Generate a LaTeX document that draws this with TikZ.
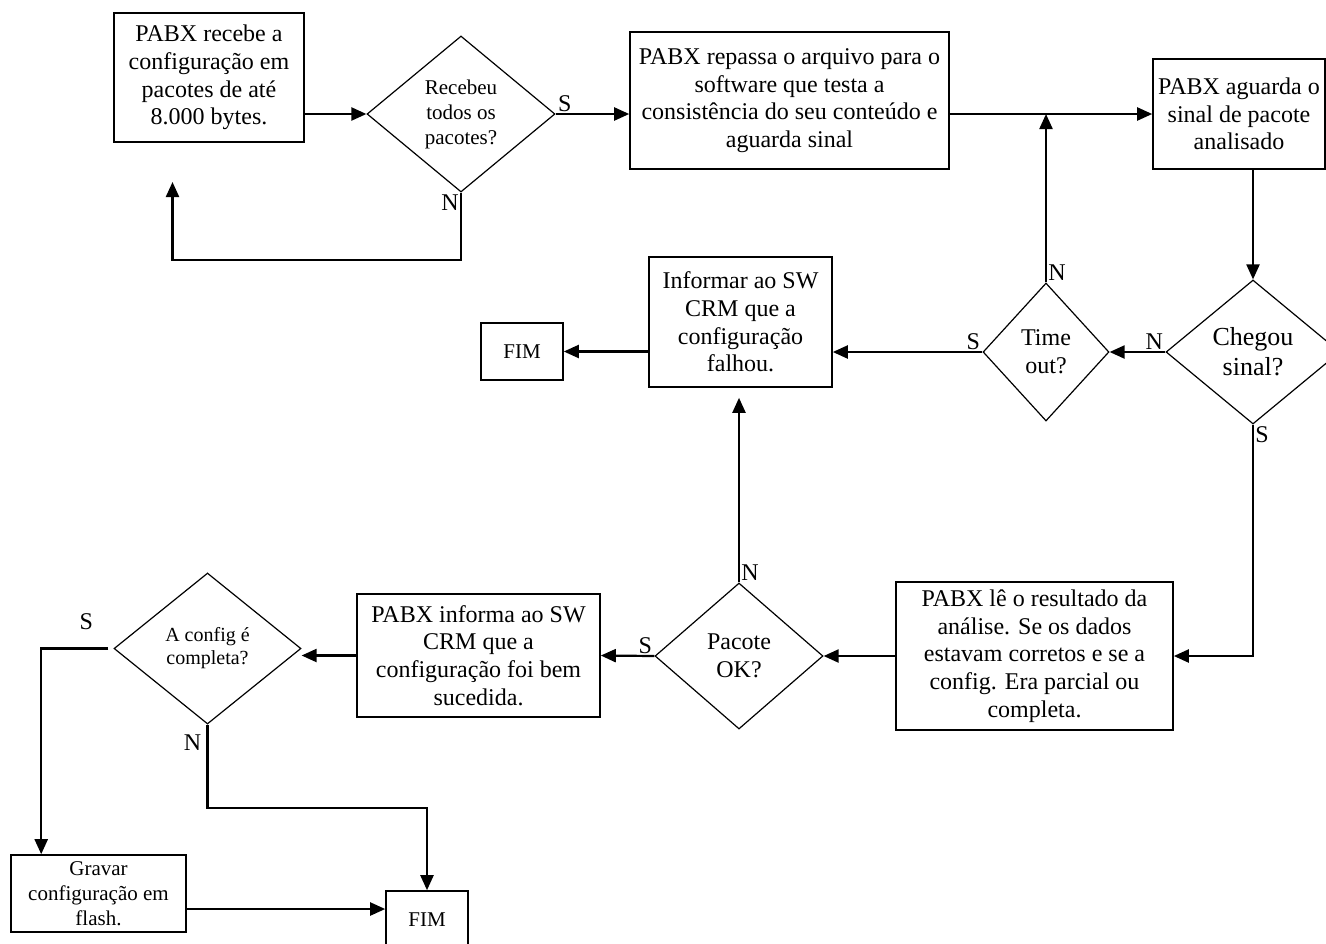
\documentclass[tikz,border=0pt]{standalone}
\usepackage{fontspec}
\setmainfont{Liberation Serif}
\usetikzlibrary{arrows.meta,positioning,shapes.geometric}

\begin{document}
\begin{tikzpicture}[
  x=0.5pt, y=-0.5pt,
  box/.style 2 args={draw, line width=0.8pt, align=center, inner sep=2pt, minimum width=#1, minimum height=#2, font=\fontsize{12}{13.8}\selectfont},
  decision/.style 2 args={draw, diamond, line width=0.6pt, align=center, inner sep=0pt, minimum width=#1, minimum height=#2, font=\fontsize{12}{13.8}\selectfont},
  smalltxt/.style={font=\fontsize{10.5}{12.5}\selectfont},
  lbl/.style={inner sep=1pt, font=\fontsize{12}{13.8}\selectfont},
  arrow/.style={-{Triangle[length=7.5pt,width=6.5pt]}, line width=1.1pt}
]
  \useasboundingbox (0,0) rectangle (1326,943);

  % recepcao dos pacotes
  \node[box={95pt}{64.5pt}] (rcv) at (209,77.5) {PABX recebe a\\configuração em\\pacotes de até\\8.000 bytes.};
  \node[decision={94pt}{78pt}, smalltxt] (tod) at (461,114) {Recebeu\\todos os\\pacotes?};
  \node[box={159.5pt}{68.5pt}] (rep) at (789.5,100.5) {PABX repassa o arquivo para o\\software que testa a\\consistência do seu conteúdo e\\aguarda sinal};
  \node[box={86pt}{55pt}] (agu) at (1239,114) {PABX aguarda o\\sinal de pacote\\analisado};

  % espera do sinal
  \node[decision={87pt}{72pt}, font=\fontsize{13}{15}\selectfont] (che) at (1253,352) {Chegou\\sinal?};
  \node[decision={63pt}{69pt}] (tmo) at (1046,352) {Time\\out?};
  \node[box={91.5pt}{65pt}] (inf) at (740.5,322) {Informar ao SW\\CRM que a\\configuração\\falhou.};
  \node[box={41pt}{28.5pt}, smalltxt] (fim1) at (522,351.5) {FIM};

  % resultado da analise
  \node[box={138.5pt}{74pt}] (lei) at (1034.5,656) {PABX lê o resultado da\\análise. Se os dados\\estavam corretos e se a\\config. Era parcial ou\\completa.};
  \node[decision={84pt}{73pt}] (pok) at (739,656) {Pacote\\OK?};
  \node[box={121.5pt}{61.5pt}] (inf2) at (478.5,655.5) {PABX informa ao SW\\CRM que a\\configuração foi bem\\sucedida.};
  \node[decision={93.5pt}{75.5pt}, font=\fontsize{10}{11.5}\selectfont] (cmp) at (207.5,648.5) {A config é\\completa?};
  \node[box={87.5pt}{38.5pt}, smalltxt] (grv) at (98.5,893.5) {Gravar\\configuração em\\flash.};
  \node[box={41pt}{28.5pt}, smalltxt] (fim2) at (427,919.5) {FIM};

  \coordinate (back) at (172.5,182);

  % conexoes
  \draw[arrow] (rcv.east |- tod.west) -- (tod.west);
  \draw[arrow] (tod.south) -- ++(0,67) -| (back);
  \draw[arrow] (tod.east) -- (tod.east -| rep.west);
  \draw[arrow] (rep.east |- agu.west) -- (agu.west);
  \draw[arrow] (tmo.north) -- (tmo.north |- agu.west);
  \draw[arrow] (agu.south -| che.north) -- (che.north);
  \draw[arrow] (che.west) -- (tmo.east);
  \draw[arrow] (tmo.west) -- (tmo.west -| inf.east);
  \draw[arrow] (inf.west |- fim1.east) -- (fim1.east);
  \draw[arrow] (che.south) |- (lei.east);
  \draw[arrow] (lei.west) -- (pok.east);
  \draw[arrow] (pok.north) -- ([yshift=-5pt]pok.north |- inf.south);
  \draw[arrow] (pok.west) -- (inf2.east);
  \draw[arrow] (inf2.west) -- (inf2.west -| cmp.east);
  \draw[arrow] ([xshift=-2.5pt]cmp.west) -| ([xshift=15.5pt]grv.north west);
  \draw[arrow] (cmp.south) -- ++(0,83) -| (fim2.north);
  \draw[arrow] ([yshift=-7.75pt]grv.east) -- ([yshift=-7.75pt]grv.east -| fim2.west);

  % rotulos S/N
  \node[lbl, above right=0pt of tod.east] (s1) {S};
  \node[lbl, below left=0pt of tod.south] (n1) {N};
  \node[lbl, above right=0pt of tmo.north] (n2) {N};
  \node[lbl, above left=0pt of che.west] (n3) {N};
  \node[lbl, above left=0pt of tmo.west] (s2) {S};
  \node[lbl, below right=0pt of che.south] (s3) {S};
  \node[lbl, above right=0pt of pok.north] (n4) {N};
  \node[lbl, above left=0pt of pok.west] (s4) {S};
  \node[lbl, above left=8pt and 9pt of cmp.west] (s5) {S};
  \node[lbl, below left=4pt and 2pt of cmp.south] (n5) {N};
\end{tikzpicture}
\end{document}
